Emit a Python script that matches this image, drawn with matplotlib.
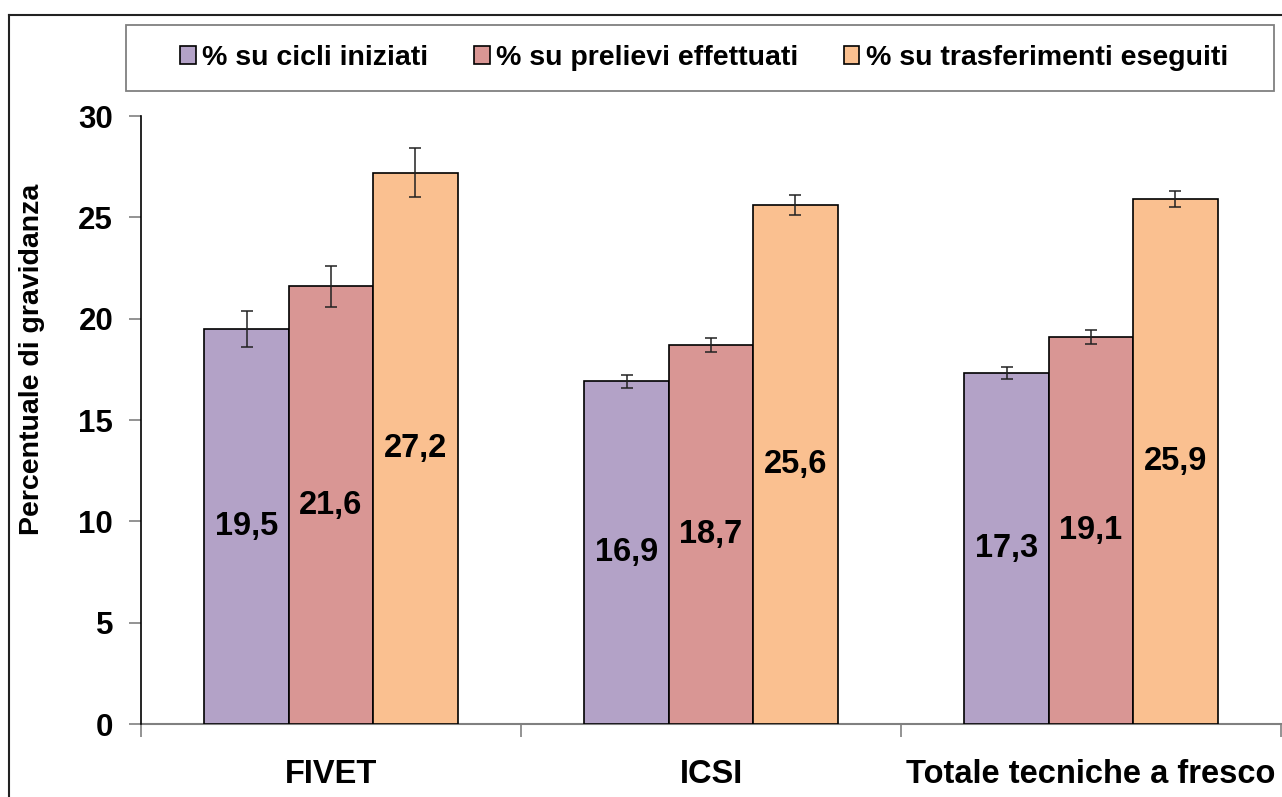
import matplotlib
matplotlib.use("Agg")
import matplotlib.pyplot as plt
from matplotlib.patches import Patch, Rectangle
import numpy as np

plt.rcParams['font.family'] = ['Liberation Sans', 'DejaVu Sans']

categories = ["FIVET", "ICSI", "Totale tecniche a fresco"]
series_names = ["% su cicli iniziati", "% su prelievi effettuati", "% su trasferimenti eseguiti"]
cicli = [19.5, 16.9, 17.3]
prelievi = [21.6, 18.7, 19.1]
trasferimenti = [27.2, 25.6, 25.9]
err_cicli = [0.9, 0.33, 0.3]
err_prelievi = [1.0, 0.35, 0.35]
err_trasferimenti = [1.2, 0.5, 0.4]
labels_cicli = ["19,5", "16,9", "17,3"]
labels_prelievi = ["21,6", "18,7", "19,1"]
labels_trasferimenti = ["27,2", "25,6", "25,9"]
yticks = [0, 5, 10, 15, 20, 25, 30]

colors = ["#B3A2C7", "#D99694", "#FAC090"]

W, H = 1282, 797
fig = plt.figure(figsize=(W / 100, H / 100), dpi=100)
ax = fig.add_axes([141 / W, 1 - 724 / H, 1140 / W, (724 - 116) / H])

x = np.arange(len(categories)) + 0.5
bw = 0.222
series = [cicli, prelievi, trasferimenti]
errs = [err_cicli, err_prelievi, err_trasferimenti]
labs = [labels_cicli, labels_prelievi, labels_trasferimenti]
for i, (vals, e, lb) in enumerate(zip(series, errs, labs)):
    pos = x + (i - 1) * bw
    ax.bar(pos, vals, width=bw, color=colors[i], edgecolor="black", linewidth=1.2, zorder=2)
    ax.errorbar(pos, vals, yerr=e, fmt="none", ecolor="#222222", elinewidth=1.1,
                capsize=4, capthick=1.1, zorder=3)
    for p, v, t in zip(pos, vals, lb):
        ax.text(p, v / 2, t, ha="center", va="center", fontsize=23.5, fontweight="bold", zorder=4)

ax.set_xlim(0, 3)
ax.set_ylim(0, 30)
ax.set_yticks(yticks)
ax.set_yticklabels([str(t) for t in yticks], fontsize=22.5, fontweight="bold")
ax.set_xticks(x)
ax.set_xticklabels(categories, fontsize=23.5, fontweight="bold")
ax.set_xticks([0, 1, 2, 3], minor=True)
ax.tick_params(axis="x", which="major", length=0, pad=25)
ax.tick_params(axis="x", which="minor", length=9, color="#808080", width=1.2, direction="out")
ax.tick_params(axis="y", length=9, color="#808080", width=1.2, pad=11)
for s in ["top", "right"]:
    ax.spines[s].set_visible(False)
ax.spines["left"].set_color("black")
ax.spines["left"].set_linewidth(1.2)
ax.spines["bottom"].set_color("#808080")
ax.spines["bottom"].set_linewidth(1.5)
ax.spines["bottom"].set_zorder(1)

fig.text(32 / W, 1 - 359 / H, "Percentuale di gravidanza", rotation=90, ha="center", va="center",
         fontsize=20.5, fontweight="bold")

# outer frame (cropped at right and bottom)
fig.add_artist(plt.Line2D([9 / W, 9 / W], [0, 1 - 15 / H], color="#222222", lw=1.5,
                          transform=fig.transFigure))
fig.add_artist(plt.Line2D([9 / W, 1], [1 - 15 / H, 1 - 15 / H], color="#222222", lw=1.5,
                          transform=fig.transFigure))

# legend box
fig.add_artist(Rectangle((126 / W, 1 - 91 / H), (1274 - 126) / W, 66 / H, transform=fig.transFigure,
                         facecolor="white", edgecolor="#808080", lw=1.3))
handles = [Patch(facecolor=c, edgecolor="black", linewidth=1.2) for c in colors]
leg = fig.legend(handles, series_names, loc="center", bbox_to_anchor=(704 / W, 1 - 58 / H),
                 ncol=3, frameon=False, prop={"size": 20.5, "weight": "bold"},
                 handlelength=0.55, handleheight=0.55, handletextpad=0.22, columnspacing=1.6)

fig.savefig("out.png", dpi=100)
